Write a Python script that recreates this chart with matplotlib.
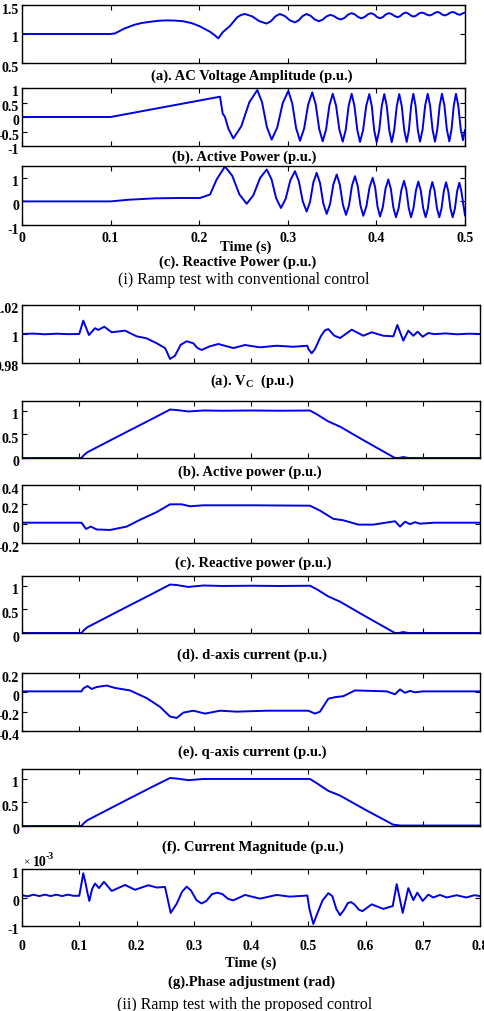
import numpy as np
import matplotlib
matplotlib.use('Agg')
import matplotlib.pyplot as plt
import matplotlib.transforms as mtrans
from matplotlib.ticker import FuncFormatter

# ---- (i) conventional control ----
t_volt = [0, 0.1, 0.105, 0.115, 0.126, 0.135, 0.1445, 0.154, 0.163, 0.172, 0.182, 0.192,
          0.201, 0.212, 0.217, 0.2216, 0.2265, 0.2348, 0.243, 0.2475, 0.2517,
          0.2598, 0.2679, 0.276, 0.281, 0.286, 0.291, 0.2967, 0.3023, 0.308, 0.3123,
          0.3167, 0.321, 0.3257, 0.3303, 0.335, 0.3393, 0.3437, 0.348, 0.352, 0.356,
          0.360, 0.364, 0.368, 0.372, 0.3757, 0.3793, 0.383, 0.3867, 0.3903, 0.394,
          0.3973, 0.4007, 0.404, 0.4073, 0.4107, 0.414, 0.4173, 0.4207, 0.424, 0.427,
          0.430, 0.433, 0.436, 0.439, 0.442, 0.445, 0.448, 0.451, 0.454, 0.457, 0.460,
          0.463, 0.466, 0.469, 0.4717, 0.4743, 0.477, 0.480, 0.483, 0.486, 0.4887,
          0.4913, 0.494, 0.496, 0.498, 0.5]
volt = [1.0, 1.0, 1.01, 1.09, 1.155, 1.19, 1.21, 1.228, 1.235, 1.232, 1.22, 1.185,
        1.13, 1.04, 0.985, 0.925, 1.03, 1.14, 1.29, 1.33, 1.345,
        1.304, 1.221, 1.18, 1.221, 1.304, 1.345, 1.309, 1.236, 1.20, 1.236,
        1.309, 1.345, 1.314, 1.251, 1.22, 1.248, 1.303, 1.33, 1.31, 1.27,
        1.25, 1.278, 1.333, 1.36, 1.338, 1.293, 1.27, 1.293, 1.338, 1.36,
        1.338, 1.293, 1.27, 1.293, 1.338, 1.36, 1.343, 1.308, 1.29, 1.31,
        1.35, 1.37, 1.353, 1.318, 1.30, 1.318, 1.353, 1.37, 1.358, 1.333, 1.32,
        1.335, 1.365, 1.38, 1.365, 1.335, 1.32, 1.335, 1.365, 1.38, 1.368,
        1.343, 1.33, 1.345, 1.36, 1.37]

t_p1 = [0, 0.1, 0.2235, 0.2265, 0.2291, 0.2329, 0.2385, 0.2475, 0.2566, 0.2656,
        0.2710, 0.2764, 0.2818, 0.2881, 0.2943, 0.3006, 0.3050, 0.3094, 0.3138,
        0.3184, 0.3230, 0.3276, 0.3315, 0.3355, 0.3394, 0.3432, 0.3469, 0.3507,
        0.3545, 0.3582, 0.362, 0.3654, 0.3687, 0.3721, 0.3752, 0.3784, 0.3815,
        0.3850, 0.3885, 0.392, 0.3948, 0.3975, 0.4003, 0.4032, 0.4060, 0.4089,
        0.4117, 0.4145, 0.4173, 0.4201, 0.4230, 0.4258, 0.4286, 0.4314, 0.4342,
        0.4367, 0.4392, 0.4417, 0.4442, 0.4467, 0.4492, 0.4521, 0.4550, 0.4579,
        0.4606, 0.4634, 0.4661, 0.4687, 0.4714, 0.474, 0.4768, 0.4795, 0.4823,
        0.4848, 0.4873, 0.4898, 0.4924, 0.4951, 0.4977, 0.5]
p1 = [0, 0, 0.70, 0.12, 0.0, -0.40, -0.74, -0.32, 0.51, 0.93,
      0.50, -0.35, -0.78, -0.36, 0.48, 0.90, 0.47, -0.39, -0.82,
      -0.40, 0.43, 0.85, 0.43, -0.42, -0.84, -0.43, 0.39, 0.80,
      0.39, -0.44, -0.85, -0.44, 0.39, 0.80, 0.385, -0.445, -0.86,
      -0.445, 0.38, 0.79, 0.375, -0.455, -0.87, -0.455, 0.375, 0.79,
      0.375, -0.455, -0.87, -0.455, 0.375, 0.79, 0.38, -0.45, -0.86,
      -0.445, 0.385, 0.80, 0.39, -0.44, -0.85, -0.44, 0.39, 0.80,
      0.39, -0.44, -0.85, -0.44, 0.39, 0.80, 0.39, -0.43, -0.84,
      -0.43, 0.39, 0.80, 0.40, -0.40, -0.80, -0.45]

t_q1 = [0, 0.1, 0.12, 0.15, 0.18, 0.2009, 0.2122, 0.2197, 0.2291, 0.2373, 0.2454,
        0.2536, 0.2611, 0.2687, 0.2762, 0.2816, 0.2869, 0.2923, 0.2976, 0.3028,
        0.3081, 0.3125, 0.3169, 0.3213, 0.3251, 0.3288, 0.3326, 0.3364, 0.3401,
        0.3439, 0.3477, 0.3514, 0.3552, 0.3587, 0.3622, 0.3657, 0.3691, 0.3724,
        0.3758, 0.3789, 0.3821, 0.3852, 0.3887, 0.3923, 0.3958, 0.3986, 0.4013,
        0.4041, 0.4072, 0.4103, 0.4134, 0.4163, 0.4192, 0.4221, 0.4251, 0.4282,
        0.4312, 0.4338, 0.4365, 0.4391, 0.4418, 0.4446, 0.4473, 0.4501, 0.4528,
        0.4556, 0.4581, 0.4606, 0.4631, 0.4657, 0.4684, 0.471, 0.4735, 0.4761,
        0.4786, 0.4811, 0.4836, 0.4861, 0.4886, 0.4911, 0.4936, 0.4958, 0.5]
q1 = [0, 0, 0.07, 0.13, 0.145, 0.145, 0.29, 0.93, 1.48, 1.085, 0.295,
      -0.1, 0.26, 0.99, 1.35, 0.94, 0.13, -0.28, 0.11, 0.89,
      1.28, 0.85, 0.0, -0.43, -0.02, 0.80, 1.21, 0.775, -0.095,
      -0.53, -0.11, 0.72, 1.14, 0.71, -0.14, -0.57, -0.16, 0.66,
      1.07, 0.65, -0.19, -0.61, -0.21, 0.60, 1.0, 0.59, -0.23,
      -0.64, -0.25, 0.54, 0.93, 0.53, -0.27, -0.67, -0.285, 0.485,
      0.87, 0.485, -0.285, -0.67, -0.29, 0.46, 0.84, 0.46, -0.29,
      -0.67, -0.30, 0.45, 0.82, 0.45, -0.30, -0.67, -0.30, 0.44,
      0.81, 0.44, -0.30, -0.67, -0.305, 0.425, 0.79, 0.45, -0.6]

# ---- (ii) proposed control ----
t_vc = [0, 0.02, 0.04, 0.06, 0.08, 0.1, 0.107, 0.117, 0.1275, 0.133, 0.1438, 0.1567,
        0.18, 0.2003, 0.2178, 0.2353, 0.2498, 0.2527, 0.2585, 0.2672, 0.277, 0.2876,
        0.2992, 0.306, 0.3138, 0.328, 0.3429, 0.3691, 0.3895, 0.4157, 0.4449, 0.4739,
        0.4984, 0.5001, 0.506, 0.5118, 0.522, 0.529, 0.535, 0.545, 0.5555, 0.5759,
        0.5962, 0.6108, 0.6311, 0.6486, 0.6556, 0.666, 0.6748, 0.6835, 0.6911, 0.6999,
        0.7097, 0.72, 0.74, 0.76, 0.78, 0.8]
vc = [1.0, 1.0003, 0.9998, 1.0002, 0.9999, 1.0, 1.0092, 0.9993, 1.004, 1.0028, 1.005,
      1.0012, 1.0023, 0.9984, 0.997, 0.9936, 0.9903, 0.988, 0.9828, 0.985, 0.9925,
      0.995, 0.9936, 0.9905, 0.989, 0.9915, 0.9931, 0.9903, 0.9924, 0.9908, 0.9919,
      0.9912, 0.9919, 0.9897, 0.9867, 0.9897, 0.9985, 1.0025, 1.0034, 0.999, 0.9972,
      1.003, 0.9988, 1.0012, 0.9988, 0.9984, 1.0062, 0.9954, 1.0023, 0.9988, 1.0016,
      0.9981, 1.0007, 0.9999, 1.0004, 0.9998, 1.0002, 1.0]

t_p2 = [0, 0.104, 0.108, 0.114, 0.13, 0.1829, 0.23, 0.2585, 0.27, 0.2905, 0.3167, 0.35,
        0.4, 0.45, 0.503, 0.515, 0.535, 0.5555, 0.6, 0.6515, 0.658, 0.666, 0.675, 0.7, 0.8]
p2 = [0, 0, 0.06, 0.12, 0.22, 0.55, 0.84, 1.02, 1.01, 0.98, 1.0, 0.995,
      1.0, 0.995, 1.0, 0.92, 0.77, 0.66, 0.35, 0.0, 0.0, 0.02, 0.0, 0.0, 0.0]

t_q2 = [0, 0.104, 0.1118, 0.12, 0.1305, 0.1537, 0.1829, 0.2061, 0.2353, 0.2585, 0.279,
        0.2934, 0.3167, 0.4, 0.503, 0.5205, 0.5438, 0.5613, 0.5875, 0.6137, 0.6515,
        0.6603, 0.669, 0.6777, 0.6865, 0.695, 0.72, 0.8]
q2 = [0.01, 0.01, -0.055, -0.03, -0.06, -0.065, -0.03, 0.04, 0.12, 0.20, 0.20,
      0.18, 0.19, 0.19, 0.186, 0.135, 0.05, 0.035, -0.01, -0.01, 0.025,
      -0.03, 0.02, -0.005, 0.015, 0.0, 0.01, 0.01]

t_id = [0, 0.104, 0.108, 0.114, 0.13, 0.1829, 0.23, 0.2585, 0.27, 0.2905, 0.3167, 0.35,
        0.4, 0.45, 0.503, 0.515, 0.535, 0.5555, 0.6, 0.6515, 0.658, 0.666, 0.675, 0.7, 0.8]
i_d = [0, 0, 0.06, 0.12, 0.22, 0.55, 0.84, 1.02, 1.01, 0.97, 1.0, 0.99,
       0.995, 0.99, 0.995, 0.92, 0.77, 0.66, 0.35, 0.0, 0.0, 0.02, 0.0, 0.0, 0.0]

t_iq = [0, 0.104, 0.107, 0.1145, 0.1217, 0.1305, 0.148, 0.1626, 0.1886, 0.2178, 0.241,
        0.2585, 0.2702, 0.2818, 0.2992, 0.3197, 0.3459, 0.375, 0.4274, 0.4681, 0.5001,
        0.5118, 0.5205, 0.535, 0.5467, 0.5613, 0.5817, 0.6079, 0.637, 0.6515, 0.6603,
        0.669, 0.6777, 0.6865, 0.7, 0.8]
i_q = [0.01, 0.01, 0.04, 0.065, 0.035, 0.055, 0.07, 0.045, 0.02, -0.06, -0.15,
       -0.25, -0.265, -0.21, -0.19, -0.22, -0.19, -0.2, -0.19, -0.19, -0.19,
       -0.22, -0.2, -0.066, -0.05, -0.04, 0.02, 0.015, 0.01, -0.02, 0.03,
       -0.005, 0.015, 0.0, 0.01, 0.01]

t_im = [0, 0.104, 0.108, 0.114, 0.13, 0.1829, 0.23, 0.2585, 0.27, 0.2905, 0.3167, 0.4,
        0.503, 0.515, 0.535, 0.5555, 0.6, 0.648, 0.66, 0.8]
i_mag = [0, 0, 0.06, 0.12, 0.22, 0.55, 0.84, 1.01, 1.0, 0.965, 0.99, 0.99,
         0.99, 0.9, 0.74, 0.64, 0.34, 0.03, 0.01, 0.01]

t_ph = [0, 0.01, 0.02, 0.03, 0.04, 0.05, 0.06, 0.07, 0.08, 0.09, 0.1, 0.104, 0.107,
        0.1105, 0.114, 0.1176, 0.1225, 0.1275, 0.1345, 0.1432, 0.1567, 0.18, 0.1974,
        0.2207, 0.2353, 0.2498, 0.2597, 0.2702, 0.2795, 0.2876, 0.295, 0.305, 0.3138,
        0.322, 0.332, 0.3411, 0.35, 0.36, 0.3691, 0.3895, 0.4157, 0.4449, 0.4681,
        0.4984, 0.502, 0.5089, 0.515, 0.525, 0.535, 0.542, 0.549, 0.5555, 0.562, 0.569,
        0.5747, 0.581, 0.588, 0.5944, 0.6108, 0.6311, 0.6475, 0.6545, 0.665, 0.6748,
        0.6835, 0.6905, 0.6999, 0.7097, 0.7185, 0.73, 0.742, 0.759, 0.776, 0.79, 0.8]
phase = [0.08, 0.04, 0.1, 0.05, 0.1, 0.05, 0.1, 0.05, 0.1, 0.06, 0.06, 0.5, 0.85,
         0.55, 0.2, -0.12, 0.3, 0.49, 0.33, 0.55, 0.23, 0.44, 0.27,
         0.43, 0.35, 0.37, -0.54, -0.22, 0.2, 0.38, 0.25, -0.1, -0.21,
         -0.12, 0.12, 0.17, 0.12, -0.05, -0.1, 0.09, -0.04, 0.09, 0.03,
         0.07, -0.4, -0.93, -0.6, -0.1, 0.15, 0.05, -0.4, -0.62, -0.45, -0.2,
         -0.16, -0.25, -0.42, -0.48, -0.24, -0.4, -0.3, 0.47, -0.54, 0.33,
         -0.09, 0.17, -0.12, 0.1, 0.0, 0.09, 0.0, 0.08, 0.0, 0.08, 0.05]

plt.rcParams['font.family'] = ['Liberation Serif', 'DejaVu Serif']
plt.rcParams['font.weight'] = 'bold'
plt.rcParams['mathtext.fontset'] = 'custom'
plt.rcParams['mathtext.rm'] = 'Liberation Serif:bold'
plt.rcParams['mathtext.bf'] = 'Liberation Serif:bold'

W, H = 484, 1012
fig = plt.figure(figsize=(W / 100, H / 100), dpi=100)
blue = '#0000e6'
# the exported tick labels sit a little below their ticks
label_shift = mtrans.ScaledTranslation(0, -2.5 / 100, fig.dpi_scale_trans)


def fmt(v, pos):
    v = round(v, 6)
    return '%g' % (0 if v == 0 else v)


def make_ax(top, bottom, right, xmax, ylim, yticks, xlabels=False, xpad=4):
    ax = fig.add_axes([22 / W, 1 - bottom / H, (right - 22) / W, (bottom - top) / H])
    ax.set_xlim(0, xmax)
    ax.set_ylim(*ylim)
    ax.set_yticks(yticks)
    ax.set_xticks(np.arange(0, xmax + 0.001, 0.1))
    ax.yaxis.set_major_formatter(FuncFormatter(fmt))
    ax.xaxis.set_major_formatter(FuncFormatter(fmt))
    ax.tick_params(direction='in', top=True, right=True, length=3.5, width=0.8,
                   labelsize=10, pad=2)
    ax.tick_params(axis='x', pad=xpad)
    if not xlabels:
        ax.tick_params(labelbottom=False)
    for lab in ax.yaxis.get_majorticklabels():
        lab.set_transform(lab.get_transform() + label_shift)
    for s in ax.spines.values():
        s.set_linewidth(1.0)
    return ax


def label(x, y, s, **kw):
    kw.setdefault('fontsize', 10.5)
    fig.text(x / W, 1 - y / H, s, ha='center', va='center', **kw)


# panel (i)
ax = make_ax(6, 64, 465, 0.5, (0.5, 1.5), [0.5, 1, 1.5])
ax.plot(t_volt, volt, color=blue, lw=1.4)
label(252, 76, '(a). AC Voltage Amplitude (p.u.)')

ax = make_ax(89, 147, 465, 0.5, (-1, 1), [-1, -0.5, 0, 0.5, 1])
ax.plot(t_p1, p1, color=blue, lw=1.4)
label(244, 157, '(b). Active Power (p.u.)')

ax = make_ax(167, 226, 465, 0.5, (-1, 1.5), [-1, 0, 1], xlabels=True, xpad=4)
ax.plot(t_q1, q1, color=blue, lw=1.4)
label(246, 247, 'Time (s)')
label(238, 262, '(c). Reactive Power (p.u.)')
label(244, 280, '(i) Ramp test with conventional control', fontsize=11.5, fontweight='normal')

# panel (ii)
ax = make_ax(306, 364, 480, 0.8, (0.98, 1.02), [0.98, 1, 1.02])
ax.plot(t_vc, vc, color=blue, lw=1.4)
label(252, 381, r'(a). V$_{\mathrm{C}}$  (p.u.)')

ax = make_ax(402, 459, 480, 0.8, (0, 1.2), [0, 0.5, 1])
ax.plot(t_p2, p2, color=blue, lw=1.4)
label(250, 472, '(b). Active power (p.u.)')

ax = make_ax(486, 544, 480, 0.8, (-0.2, 0.4), [-0.2, 0, 0.2, 0.4])
ax.plot(t_q2, q2, color=blue, lw=1.4)
label(253, 563, '(c). Reactive power (p.u.)')

ax = make_ax(577, 634, 480, 0.8, (0, 1.2), [0, 0.5, 1])
ax.plot(t_id, i_d, color=blue, lw=1.4)
label(252, 655, '(d). d-axis current (p.u.)')

ax = make_ax(674, 732, 480, 0.8, (-0.4, 0.2), [-0.4, -0.2, 0, 0.2])
ax.plot(t_iq, i_q, color=blue, lw=1.4)
label(252, 752, '(e). q-axis current (p.u.)')

ax = make_ax(770, 827, 480, 0.8, (0, 1.2), [0, 0.5, 1])
ax.plot(t_im, i_mag, color=blue, lw=1.4)
label(253, 847, '(f). Current Magnitude (p.u.)')

ax = make_ax(870, 927, 480, 0.8, (-1, 1), [-1, 0, 1], xlabels=True, xpad=9)
ax.plot(t_ph, phase, color=blue, lw=1.4)
fig.text(23 / W, 1 - 863 / H, '\u00d7', fontsize=8, fontweight='normal', va='center')
fig.text(33 / W, 1 - 863 / H, '10', fontsize=10, va='center')
fig.text(46 / W, 1 - 857 / H, '-3', fontsize=7, va='center')
label(251, 963, 'Time (s)')
label(252, 982, '(g).Phase adjustment (rad)')
label(245, 1005, '(ii) Ramp test with the proposed control', fontsize=11.5, fontweight='normal')

fig.savefig('out.png', dpi=100)
